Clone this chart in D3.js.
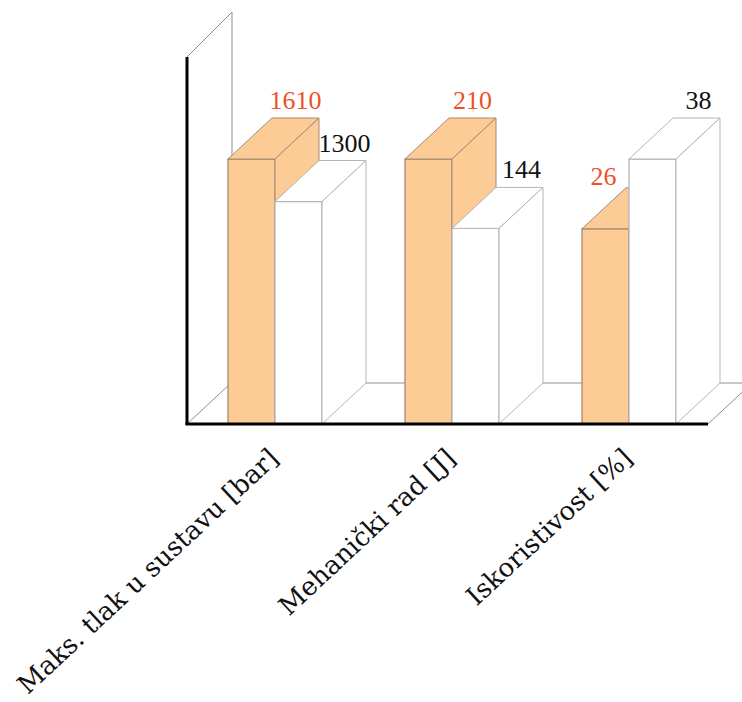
<!DOCTYPE html>
<html>
<head>
<meta charset="utf-8">
<script src="https://cdn.jsdelivr.net/npm/d3@7"></script>
<style>
  html, body { margin: 0; padding: 0; background: #fff; }
  svg { display: block; }
</style>
</head>
<body>
<div id="chart"></div>
<script>
// ---- data ----
const categories = ["Maks. tlak u sustavu [bar]", "Mehanički rad [J]", "Iskoristivost [%]"];
const seriesNames = ["A", "B"];
const seriesA = [1610, 210, 26];   // orange bars
const seriesB = [1300, 144, 38];   // white bars

// ---- layout ----
const W = 742, H = 702;
const floorFront = 424, floorBack = 383;
const depthX = 44, depthY = floorBack - floorFront; // -41
const wallLeft = 187, wallTop = 57;
const wallDepthX = 45, wallDepthY = -45;
const floorRight = 708;

const svg = d3.select("#chart").append("svg")
  .attr("width", W).attr("height", H)
  .attr("viewBox", `0 0 ${W} ${H}`);

// group scale
const x0 = d3.scaleBand().domain(categories).range([184, 715]).paddingInner(0).paddingOuter(0);
const groupOffset = 44;
const x1 = d3.scaleBand().domain(seriesNames).range([0, 94]);
// each category is normalised to its own maximum
const y = d3.scaleLinear().domain([-0.2, 1]).range([floorFront, 159]);

const thin = "#8f8f8f";

// back wall and floor frame
const frame = svg.append("g");
frame.append("line").attr("x1", wallLeft).attr("y1", wallTop)
  .attr("x2", wallLeft + wallDepthX).attr("y2", wallTop + wallDepthY)
  .attr("stroke", thin).attr("stroke-width", 1);
frame.append("line").attr("x1", wallLeft + wallDepthX).attr("y1", wallTop + wallDepthY)
  .attr("x2", wallLeft + wallDepthX).attr("y2", floorBack)
  .attr("stroke", thin).attr("stroke-width", 1);
frame.append("line").attr("x1", wallLeft).attr("y1", floorFront)
  .attr("x2", wallLeft + depthX).attr("y2", floorBack)
  .attr("stroke", thin).attr("stroke-width", 1);
frame.append("line").attr("x1", wallLeft + depthX).attr("y1", floorBack)
  .attr("x2", floorRight + depthX).attr("y2", floorBack)
  .attr("stroke", thin).attr("stroke-width", 1);
frame.append("line").attr("x1", floorRight).attr("y1", floorFront)
  .attr("x2", floorRight + depthX).attr("y2", floorBack)
  .attr("stroke", thin).attr("stroke-width", 1);

// bars
const styles = {
  A: { fill: "#fdcb95", stroke: "#a38c76", label: "#ee5025" },
  B: { fill: "#ffffff", stroke: "#b5b5b5", label: "#111111" }
};

const bars = svg.append("g");
const labels = [];
categories.forEach((cat, i) => {
  const vals = { A: seriesA[i], B: seriesB[i] };
  const maxV = Math.max(vals.A, vals.B);
  seriesNames.forEach((s, j) => {
    const v = vals[s];
    const bx = x0(cat) + groupOffset + x1(s);
    const bw = x1.bandwidth();
    const top = y(v / maxV);
    const bottom = y(-0.2);
    const st = styles[s];
    const g = bars.append("g");
    // front face
    g.append("path")
      .attr("d", `M${bx},${bottom}L${bx},${top}L${bx + bw},${top}L${bx + bw},${bottom}Z`)
      .attr("fill", st.fill).attr("stroke", st.stroke).attr("stroke-width", 1.3);
    // top face
    g.append("path")
      .attr("d", `M${bx},${top}L${bx + depthX},${top + depthY}L${bx + bw + depthX},${top + depthY}L${bx + bw},${top}Z`)
      .attr("fill", st.fill).attr("stroke", st.stroke).attr("stroke-width", 1);
    // side face
    g.append("path")
      .attr("d", `M${bx + bw},${top}L${bx + bw + depthX},${top + depthY}L${bx + bw + depthX},${bottom + depthY}L${bx + bw},${bottom}Z`)
      .attr("fill", st.fill).attr("stroke", st.stroke).attr("stroke-width", 1);

    // label position: above the back edge, or above the front if a taller neighbour hides it
    const other = s === "A" ? vals.B : vals.A;
    const hidden = s === "A" && other > v;
    labels.push({
      text: String(v),
      x: hidden ? bx + bw / 2 - 2 : bx + bw / 2 + depthX + (s === "B" ? 2 : 0),
      y: hidden ? top + depthY - 3 : top + depthY - 9,
      color: st.label
    });
  });
});

// black axes (front)
svg.append("line").attr("x1", wallLeft).attr("y1", wallTop)
  .attr("x2", wallLeft).attr("y2", floorFront + 1)
  .attr("stroke", "#000").attr("stroke-width", 3);
svg.append("line").attr("x1", wallLeft - 1.5).attr("y1", floorFront)
  .attr("x2", floorRight).attr("y2", floorFront)
  .attr("stroke", "#000").attr("stroke-width", 3);

// value labels
svg.append("g").selectAll("text").data(labels).join("text")
  .attr("x", d => d.x).attr("y", d => d.y)
  .attr("text-anchor", "middle")
  .attr("font-family", "'Liberation Serif', 'Times New Roman', serif")
  .attr("font-size", 26)
  .attr("fill", d => d.color)
  .text(d => d.text);

// category labels
svg.append("g").selectAll("text").data(categories).join("text")
  .attr("transform", d => `translate(${x0(d) + groupOffset + x1.bandwidth() + 5},${460}) rotate(-43)`)
  .attr("text-anchor", "end")
  .attr("font-family", "'DejaVu Serif', serif")
  .attr("font-size", 26)
  .attr("fill", "#111")
  .text(d => d);
</script>
</body>
</html>
